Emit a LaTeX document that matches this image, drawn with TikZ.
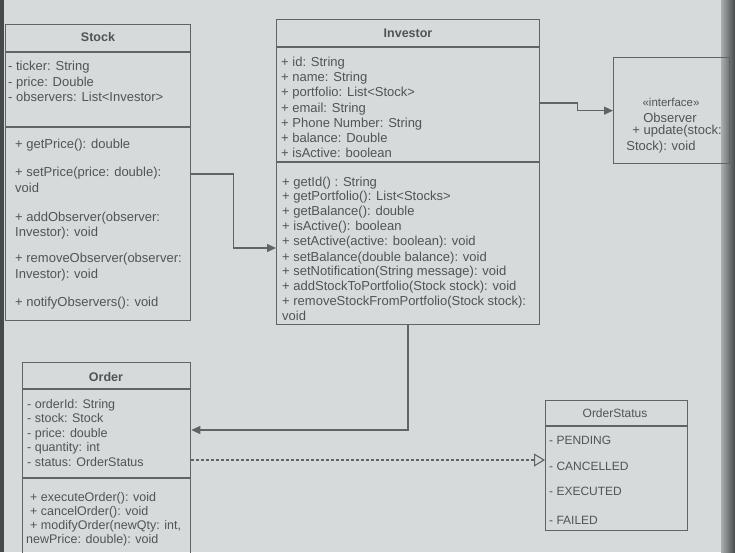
\documentclass[tikz,border=0pt]{standalone}
\usepackage{fontspec}
\setmainfont{Liberation Sans}
\usetikzlibrary{calc,arrows.meta}
\definecolor{screen}{RGB}{214,218,218}
\definecolor{ink}{RGB}{80,84,84}
\definecolor{edge}{RGB}{96,100,100}
\definecolor{bezel}{RGB}{70,74,76}
\begin{document}
\begin{tikzpicture}[x=1pt,y=-1pt,
  umlbox/.style={draw=edge,line width=1.3pt,rectangle,inner sep=0pt,anchor=north west},
  divider/.style={draw=edge,line width=1.2pt},
  txt/.style={anchor=base west,inner sep=0pt,text=ink,yshift=-4pt,
    font=\fontsize{13}{15}\selectfont},
  smalltxt/.style={txt,font=\fontsize{12.5}{15}\selectfont},
  ctxt/.style={anchor=base,inner sep=0pt,text=ink,yshift=-4pt,
    font=\fontsize{13}{15}\selectfont},
  ttl/.style={ctxt,font=\fontsize{12.5}{15}\selectfont\bfseries},
  conn/.style={draw=edge,line width=1.3pt,-{Triangle[length=9pt,width=8pt]}},
  realize/.style={draw=edge,line width=1.1pt,dash pattern=on 3pt off 2pt,
    -{Triangle[open,length=11pt,width=13pt,fill=screen,line width=1.1pt]}}
]
% screen and bezel
\fill[screen] (0,0) rectangle (735,552);
\useasboundingbox (0,0) rectangle (735,552);
\clip (0,0) rectangle (735,552);
\fill[bezel] (0,0) rectangle (4,552);
\shade[left color=screen!70!bezel,right color=bezel] (721,0) rectangle (735,552);

% ---------- Stock ----------
\node[umlbox,minimum width=185pt,minimum height=296pt] (stock) at (5,24) {};
\draw[divider] ($(stock.north west)+(0,28)$) -- ($(stock.north east)+(0,28)$);
\draw[divider] ($(stock.north west)+(0,103)$) -- ($(stock.north east)+(0,103)$);
\node[ttl] (stock-title) at (98,37) {Stock};
\foreach \y/\t [count=\i] in {66/{- ticker: String},82/{- price: Double},97/{- observers: List<Investor>}}
  \node[txt] (stock-a\i) at (8,\y) {\t};
\foreach \y/\t [count=\i] in {144/{+ getPrice(): double},172/{+ setPrice(price: double):},188/{void},
  217/{+ addObserver(observer:},232/{Investor): void},258/{+ removeObserver(observer:},
  274/{Investor): void},302/{+ notifyObservers(): void}}
  \node[txt] (stock-m\i) at (15,\y) {\t};

% ---------- Investor ----------
\node[umlbox,minimum width=263pt,minimum height=305pt] (investor) at (276,19) {};
\draw[divider] ($(investor.north west)+(0,28)$) -- ($(investor.north east)+(0,28)$);
\draw[divider] ($(investor.north west)+(0,143)$) -- ($(investor.north east)+(0,143)$);
\node[ttl] (investor-title) at (408,33) {Investor};
\foreach \y/\t [count=\i] in {62/{+ id: String},77/{+ name: String},92/{+ portfolio: List<Stock>},
  108/{+ email: String},123/{+ Phone Number: String},138/{+ balance: Double},153/{+ isActive: boolean}}
  \node[txt] (investor-a\i) at (281,\y) {\t};
\foreach \y/\t [count=\i] in {182/{+ getId() : String},196/{+ getPortfolio(): List<Stocks>},
  211/{+ getBalance(): double},226/{+ isActive(): boolean},241/{+ setActive(active: boolean): void},
  257/{+ setBalance(double balance): void},271/{+ setNotification(String message): void},
  286/{+ addStockToPortfolio(Stock stock): void},301/{+ removeStockFromPortfolio(Stock stock):},
  316/{void}}
  \node[txt] (investor-m\i) at (282,\y) {\t};

% ---------- Observer ----------
\node[umlbox,minimum width=116pt,minimum height=106pt] (observer) at (613,57) {};
\node[ctxt,font=\fontsize{11.5}{13}\selectfont] (observer-st) at (671,102) {«interface»};
\node[ctxt] (observer-name) at (670,118) {Observer};
\node[ctxt] (observer-op1) at (677,130) {+ update(stock:};
\node[ctxt] (observer-op2) at (661,146) {Stock): void};

% ---------- Order ----------
\node[umlbox,minimum width=168pt,minimum height=200pt] (order) at (22,362) {};
\draw[divider] ($(order.north west)+(0,27)$) -- ($(order.north east)+(0,27)$);
\draw[divider] ($(order.north west)+(0,116)$) -- ($(order.north east)+(0,116)$);
\node[ttl] (order-title) at (106,377) {Order};
\foreach \y/\t [count=\i] in {404/{- orderId: String},418/{- stock: Stock},433/{- price: double},
  447/{- quantity: int},462/{- status: OrderStatus}}
  \node[smalltxt] (order-a\i) at (27,\y) {\t};
\foreach \y/\t [count=\i] in {497/{+ executeOrder(): void},511/{+ cancelOrder(): void},
  525/{+ modifyOrder(newQty: int,}}
  \node[smalltxt] (order-m\i) at (30,\y) {\t};
\node[smalltxt] (order-m4) at (26,539) {newPrice: double): void};

% ---------- OrderStatus ----------
\node[umlbox,minimum width=142pt,minimum height=130pt] (ostatus) at (545,400) {};
\draw[divider] ($(ostatus.north west)+(0,26)$) -- ($(ostatus.north east)+(0,26)$);
\node[ctxt,font=\fontsize{12}{14}\selectfont] (ostatus-title) at (615,413) {OrderStatus};
\foreach \y/\t [count=\i] in {440/{- PENDING},466/{- CANCELLED},491/{- EXECUTED},520/{- FAILED}}
  \node[txt,font=\fontsize{12}{14}\selectfont] (ostatus-v\i) at (549,\y) {\t};

% ---------- connectors ----------
\draw[conn] ($(stock.north east)+(0,150)$) -- ++(42,0)
  |- ($(investor.north west)+(0,229)$);
\draw[conn] ($(investor.north east)+(0,84)$) -- ++(37,0) |- (observer.west);
\draw[conn] ($(investor.south west)+(132,0)$) |- ($(order.north east)+(0,68)$);
\draw[realize] ($(order.north east)+(0,98)$) -- ($(ostatus.north west)+(0,60)$);
\end{tikzpicture}
\end{document}
